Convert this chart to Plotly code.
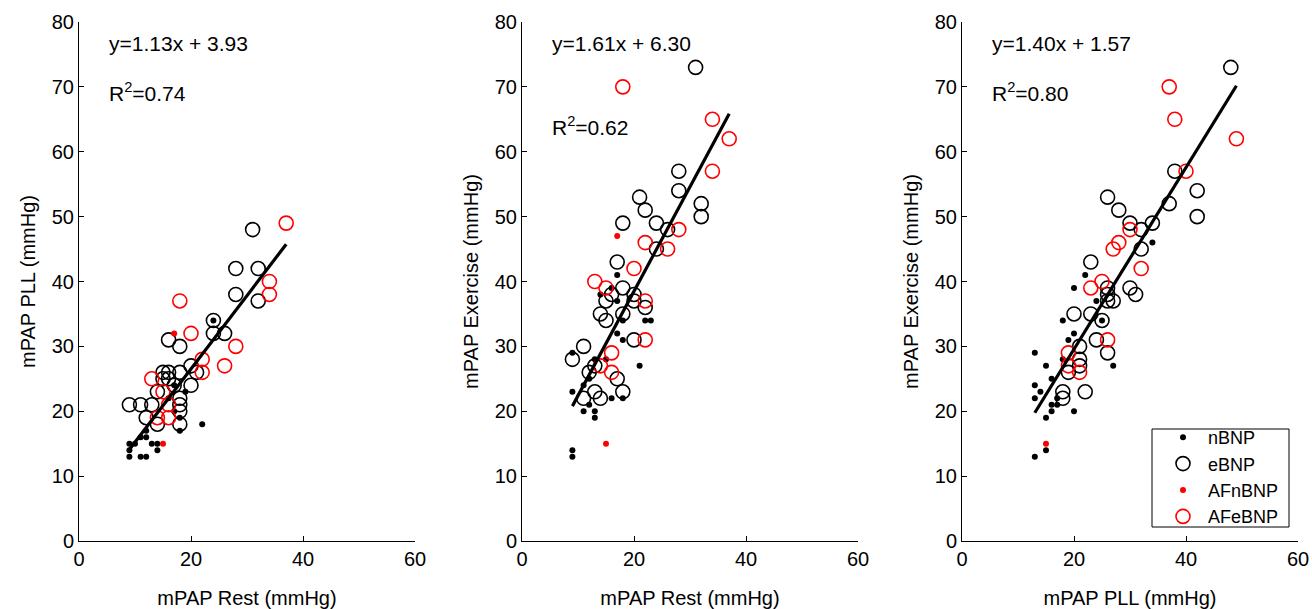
import plotly.graph_objects as go

# ---------------- data ----------------
# Panel 1: mPAP Rest (x) vs mPAP PLL (y)
p1_nBNP_x = [24, 22, 9, 9, 9, 11, 12, 13, 14, 14, 12, 12, 18, 17, 16, 17, 18, 19, 11, 10]
p1_nBNP_y = [34, 18, 15, 14, 13, 13, 13, 15, 15, 14, 16, 17, 17, 24, 22, 20, 19, 23, 16, 15]
p1_eBNP_x = [31, 28, 32, 28, 32, 24, 24, 26, 16, 18, 20, 15, 16, 18, 21, 15, 20, 14, 17, 18,
             9, 11, 13, 18, 18, 12, 14, 18, 16]
p1_eBNP_y = [48, 42, 42, 38, 37, 34, 32, 32, 31, 30, 27, 26, 26, 26, 26, 25, 24, 23, 24, 22,
             21, 21, 21, 21, 20, 19, 18, 18, 25]
p1_AFn_x = [17, 15]
p1_AFn_y = [32, 15]
p1_AFe_x = [37, 34, 34, 18, 20, 28, 22, 22, 26, 13, 15, 16, 14, 16]
p1_AFe_y = [49, 40, 38, 37, 32, 30, 28, 26, 27, 25, 23, 21, 19, 19]

# Panel 2: mPAP Rest (x) vs mPAP Exercise (y)
p2_nBNP_x = [17, 14, 17, 18, 22, 23, 17, 18, 9, 15, 21, 9, 11, 16, 18, 12, 11, 13, 13, 9, 9, 12, 13, 16]
p2_nBNP_y = [41, 38, 37, 34, 34, 34, 32, 31, 29, 28, 27, 23, 24, 22, 22, 21, 20, 20, 19, 14, 13, 25, 28, 39]
p2_eBNP_x = [31, 28, 28, 21, 22, 32, 32, 18, 24, 26, 24, 17, 18, 16, 20, 20, 15, 22, 14, 18,
             15, 20, 11, 9, 13, 12, 17, 13, 18, 11, 14]
p2_eBNP_y = [73, 57, 54, 53, 51, 52, 50, 49, 49, 48, 45, 43, 39, 38, 38, 37, 37, 36, 35, 35,
             34, 31, 30, 28, 27, 26, 25, 23, 23, 22, 22]
p2_AFn_x = [17, 15]
p2_AFn_y = [47, 15]
p2_AFe_x = [18, 34, 37, 34, 28, 22, 26, 20, 13, 15, 22, 22, 16, 14, 16]
p2_AFe_y = [70, 65, 62, 57, 48, 46, 45, 42, 40, 39, 37, 31, 29, 27, 26]

# Panel 3: mPAP PLL (x) vs mPAP Exercise (y)
p3_nBNP_x = [34, 22, 20, 24, 25, 18, 20, 19, 13, 18, 15, 27, 16, 13, 14, 13, 17, 16, 17, 16, 20, 15, 15, 13]
p3_nBNP_y = [46, 41, 39, 37, 34, 34, 32, 31, 29, 28, 27, 27, 25, 24, 23, 22, 22, 21, 21, 20, 20, 19, 14, 13]
p3_eBNP_x = [48, 38, 42, 26, 28, 37, 42, 30, 34, 32, 32, 23, 26, 26, 27, 26, 30, 31, 20, 23,
             25, 24, 21, 26, 21, 21, 19, 22, 18, 18]
p3_eBNP_y = [73, 57, 54, 53, 51, 52, 50, 49, 49, 48, 45, 43, 39, 38, 37, 37, 39, 38, 35, 35,
             34, 31, 30, 29, 28, 27, 26, 23, 23, 22]
p3_AFn_x = [15]
p3_AFn_y = [15]
p3_AFe_x = [37, 38, 49, 40, 30, 28, 27, 32, 23, 25, 26, 19, 19, 21]
p3_AFe_y = [70, 65, 62, 57, 48, 46, 45, 42, 39, 40, 31, 29, 27, 26]

# regression fits (as printed on the chart)
slopes = [1.13, 1.61, 1.40]
intercepts = [3.93, 6.30, 1.57]
r2_values = [0.74, 0.62, 0.80]
x_titles = ["mPAP Rest (mmHg)", "mPAP Rest (mmHg)", "mPAP PLL (mmHg)"]
y_titles = ["mPAP PLL (mmHg)", "mPAP Exercise (mmHg)", "mPAP Exercise (mmHg)"]
x_ticks = [0, 20, 40, 60]
y_ticks = [0, 10, 20, 30, 40, 50, 60, 70, 80]
eq_pos_y = [76.7, 76.7, 76.7]
r2_pos_y = [69.2, 64.0, 69.2]

panels = [
    (p1_nBNP_x, p1_nBNP_y, p1_eBNP_x, p1_eBNP_y, p1_AFn_x, p1_AFn_y, p1_AFe_x, p1_AFe_y),
    (p2_nBNP_x, p2_nBNP_y, p2_eBNP_x, p2_eBNP_y, p2_AFn_x, p2_AFn_y, p2_AFe_x, p2_AFe_y),
    (p3_nBNP_x, p3_nBNP_y, p3_eBNP_x, p3_eBNP_y, p3_AFn_x, p3_AFn_y, p3_AFe_x, p3_AFe_y),
]

# ---------------- figure ----------------
FONT = "Liberation Sans, Arial, Helvetica, sans-serif"
W, H = 1312, 609
x_domains = [(79 / W, 415 / W), (522 / W, 858 / W), (962 / W, 1298 / W)]
y_domain = ((H - 541) / H, 1 - 22 / H)

fig = go.Figure()

for i, (nx, ny, ex, ey, anx, any_, aex, aey) in enumerate(panels):
    xa = "x" if i == 0 else f"x{i+1}"
    ya = "y" if i == 0 else f"y{i+1}"
    show = (i == 2)
    fig.add_trace(go.Scatter(x=nx, y=ny, mode="markers", name="nBNP", xaxis=xa, yaxis=ya,
                             marker=dict(symbol="circle", size=6, color="black"),
                             showlegend=show, legendrank=1))
    fig.add_trace(go.Scatter(x=ex, y=ey, mode="markers", name="eBNP", xaxis=xa, yaxis=ya,
                             marker=dict(symbol="circle-open", size=14, color="black",
                                         line=dict(width=1.6, color="black")),
                             showlegend=show, legendrank=2))
    fig.add_trace(go.Scatter(x=anx, y=any_, mode="markers", name="AFnBNP", xaxis=xa, yaxis=ya,
                             marker=dict(symbol="circle", size=6, color="red"),
                             showlegend=show, legendrank=3))
    fig.add_trace(go.Scatter(x=aex, y=aey, mode="markers", name="AFeBNP", xaxis=xa, yaxis=ya,
                             marker=dict(symbol="circle-open", size=14, color="red",
                                         line=dict(width=1.6, color="red")),
                             showlegend=show, legendrank=4))
    allx = nx + ex + anx + aex
    x0, x1 = min(allx), max(allx)
    fig.add_trace(go.Scatter(x=[x0, x1],
                             y=[slopes[i] * x0 + intercepts[i], slopes[i] * x1 + intercepts[i]],
                             mode="lines", line=dict(color="black", width=3.2),
                             xaxis=xa, yaxis=ya, showlegend=False, hoverinfo="skip"))

    ax_common = dict(showgrid=False, zeroline=False, showline=True, linecolor="black",
                     linewidth=1, ticks="inside", ticklen=5, tickcolor="black",
                     tickfont=dict(family=FONT, size=20, color="black"), mirror=False,
                     automargin=False)
    fig.layout[f"xaxis{'' if i == 0 else i+1}"] = dict(
        ax_common, domain=x_domains[i], range=[0, 60], tickvals=x_ticks,
        anchor=ya, title=dict(text=x_titles[i], font=dict(family=FONT, size=20, color="black"),
                              standoff=21))
    fig.layout[f"yaxis{'' if i == 0 else i+1}"] = dict(
        ax_common, domain=y_domain, range=[0, 80], tickvals=y_ticks,
        anchor=xa, title=dict(text=y_titles[i], font=dict(family=FONT, size=20, color="black"),
                              standoff=10))

    fig.add_annotation(x=5, y=eq_pos_y[i], xref=xa, yref=ya, xanchor="left", yanchor="middle",
                       text=f"y={slopes[i]:.2f}x + {intercepts[i]:.2f}", showarrow=False,
                       font=dict(family=FONT, size=21, color="black"))
    fig.add_annotation(x=5, y=r2_pos_y[i], xref=xa, yref=ya, xanchor="left", yanchor="middle",
                       text=f"R<sup>2</sup>={r2_values[i]:.2f}", showarrow=False,
                       font=dict(family=FONT, size=21, color="black"))

# legend frame (drawn as a shape so its size matches the reference box)
fig.add_shape(type="rect", xref="paper", yref="paper",
              x0=1152 / W, x1=1289 / W, y0=(H - 527) / H, y1=(H - 429) / H,
              line=dict(color="black", width=1), fillcolor="white", layer="below")

fig.update_layout(
    width=W, height=H,
    margin=dict(l=0, r=0, t=0, b=0),
    plot_bgcolor="rgba(0,0,0,0)", paper_bgcolor="white",
    legend=dict(x=1158 / W, xanchor="left", y=(H - 535) / H, yanchor="bottom",
                borderwidth=0, bgcolor="rgba(0,0,0,0)",
                font=dict(family=FONT, size=18, color="black"),
                tracegroupgap=0, itemwidth=40),
    showlegend=True,
)

fig.write_html("out.html", config={"displayModeBar": False},
               post_script="document.body.style.margin='0px';")
